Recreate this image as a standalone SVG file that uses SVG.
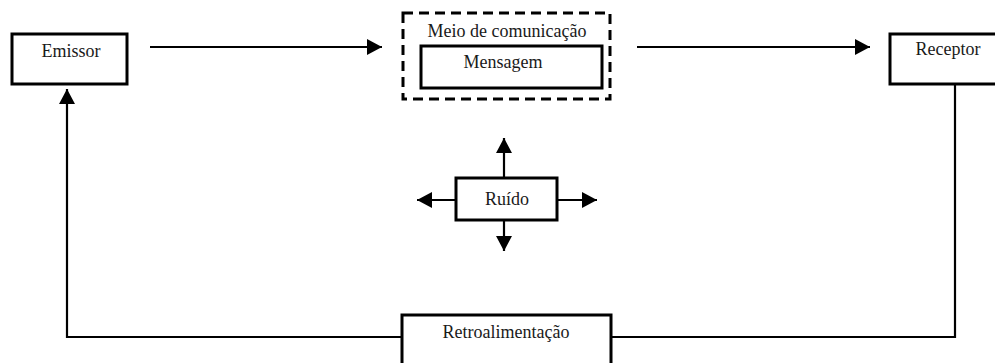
<svg xmlns="http://www.w3.org/2000/svg" width="995" height="363" viewBox="0 0 995 363">
<style>
.box{fill:#fff;stroke:#000;stroke-width:3}
.dash{fill:none;stroke:#000;stroke-width:3;stroke-dasharray:10 6}
.ln{fill:none;stroke:#000;stroke-width:2.2}
.t{font-family:'Liberation Serif','Times New Roman',serif;font-size:18px;fill:#1a1a1a;text-anchor:middle}
</style>
<defs>
<marker id="ah" markerUnits="userSpaceOnUse" markerWidth="18" markerHeight="18" refX="15" refY="8" orient="auto">
<path d="M0,0 L15,8 L0,16 Z" fill="#000"/>
</marker>
</defs>
<rect width="995" height="363" fill="#fff"/>
<g id="connectors">
<line class="ln" x1="150" y1="47" x2="382" y2="47" marker-end="url(#ah)"/>
<line class="ln" x1="637" y1="47" x2="870" y2="47" marker-end="url(#ah)"/>
<polyline class="ln" points="402,337 67,337 67,89" marker-end="url(#ah)"/>
<polyline class="ln" points="611,337 955,337 955,85"/>
<line class="ln" x1="504" y1="178" x2="504" y2="138" marker-end="url(#ah)"/>
<line class="ln" x1="504" y1="220" x2="504" y2="251" marker-end="url(#ah)"/>
<line class="ln" x1="456" y1="200" x2="417" y2="200" marker-end="url(#ah)"/>
<line class="ln" x1="557" y1="200" x2="597" y2="200" marker-end="url(#ah)"/>
</g>
<g id="emissor">
<rect class="box" x="12" y="34" width="115" height="50"/>
<text class="t" x="71" y="57">Emissor</text>
</g>
<g id="meio">
<rect class="dash" x="403" y="13" width="207" height="86"/>
<text class="t" x="507" y="37">Meio de comunicação</text>
</g>
<g id="mensagem">
<rect class="box" x="421" y="46" width="181" height="42"/>
<text class="t" x="503" y="68">Mensagem</text>
</g>
<g id="receptor">
<rect class="box" x="890" y="34" width="115" height="50"/>
<text class="t" x="948" y="55">Receptor</text>
</g>
<g id="ruido">
<rect class="box" x="456" y="178" width="101" height="42"/>
<text class="t" x="507" y="205">Ruído</text>
</g>
<g id="retroalimentacao">
<rect class="box" x="402" y="315" width="209" height="60"/>
<text class="t" x="506" y="338">Retroalimentação</text>
</g>
</svg>
